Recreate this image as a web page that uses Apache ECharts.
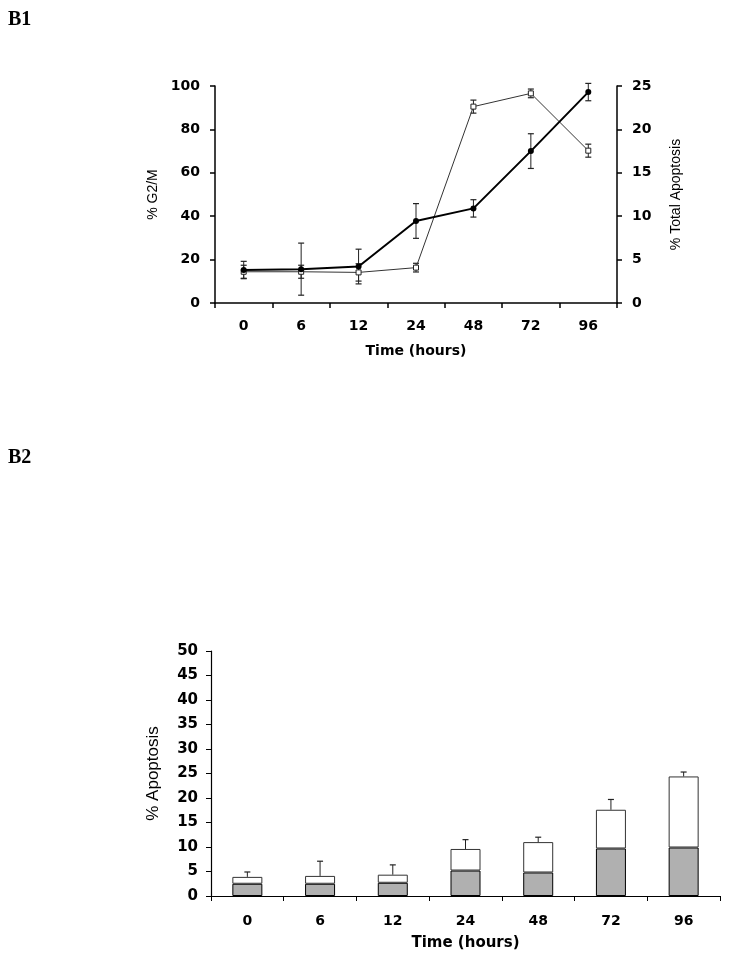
<!DOCTYPE html>
<html>
<head>
<meta charset="utf-8">
<script src="https://cdn.jsdelivr.net/npm/echarts@6/dist/echarts.min.js"></script>
<style>
  html, body { margin: 0; padding: 0; background: #fff; }
  #main { width: 729px; height: 965px; }
</style>
</head>
<body>
<div id="main"></div>
<script>
// categories
const hours = ['0', '6', '12', '24', '48', '72', '96'];
// B1 : % G2/M (open squares, left axis)
const g2m = [14.4, 14.4, 14.1, 16.3, 90.5, 96.6, 70.2];
const g2mErr = [3, 3, 4, 2, 3, 2, 3];
// B1 : % total apoptosis (filled circles, right axis)
const totalApop = [3.8, 3.9, 4.2, 9.45, 10.9, 17.5, 24.3];
const totalApopErr = [1.0, 3.0, 2.0, 2.0, 1.0, 2.0, 1.0];
// B2 : stacked bars (grey lower part, white upper part) + SD
const apopLower = [2.5, 2.5, 2.7, 5.2, 4.8, 9.7, 9.9];
const apopUpper = [1.4, 1.6, 1.65, 4.4, 6.2, 7.9, 14.5];
const apopErr = [1.0, 3.0, 2.0, 1.9, 1.0, 2.1, 0.9];

const WIDE = 'DejaVu Sans, Verdana, sans-serif';
const PLAIN = 'Liberation Sans, Arial, sans-serif';

// error bar drawer (both sides or top only)
function errRender(params, api) {
  const x = api.value(0);
  const lo = api.coord([x, api.value(1)]);
  const hi = api.coord([x, api.value(2)]);
  const hw = 3;
  const kids = [
    { type: 'line', shape: { x1: lo[0], y1: lo[1], x2: hi[0], y2: hi[1] }, style: { stroke: '#222', lineWidth: 1 } },
    { type: 'line', shape: { x1: hi[0] - hw, y1: hi[1], x2: hi[0] + hw, y2: hi[1] }, style: { stroke: '#222', lineWidth: 1.2 } }
  ];
  if (api.value(3)) {
    kids.push({ type: 'line', shape: { x1: lo[0] - hw, y1: lo[1], x2: lo[0] + hw, y2: lo[1] }, style: { stroke: '#222', lineWidth: 1.2 } });
  }
  return { type: 'group', children: kids };
}

const tickLbl = { color: '#000', fontFamily: WIDE, fontWeight: 'bold', fontSize: 14 };
const yTitle = { color: '#000', fontFamily: PLAIN, fontWeight: 'normal', fontSize: 14 };
const blackLine = { show: true, lineStyle: { color: '#000', width: 1.5 } };

const myChart = echarts.init(document.getElementById('main'));
const options = {
  animation: false,
  graphic: [
    { type: 'text', left: 8, top: 10, style: { text: 'B1', font: 'bold 20px "Liberation Serif", "Times New Roman", serif', fill: '#000' } },
    { type: 'text', left: 8, top: 448, style: { text: 'B2', font: 'bold 20px "Liberation Serif", "Times New Roman", serif', fill: '#000' } }
  ],
  grid: [
    { left: 215, right: 112, top: 86, height: 217 },
    { left: 211, right: 9, top: 651, height: 245 }
  ],
  xAxis: [
    {
      gridIndex: 0, type: 'category', data: hours, boundaryGap: true,
      axisLine: blackLine,
      axisTick: { show: true, length: 5, lineStyle: { color: '#000', width: 1.5 } },
      axisLabel: Object.assign({ margin: 16 }, tickLbl),
      name: 'Time (hours)', nameLocation: 'middle', nameGap: 41,
      nameTextStyle: Object.assign({}, tickLbl)
    },
    {
      gridIndex: 1, type: 'category', data: hours, boundaryGap: true,
      axisLine: { show: true, lineStyle: { color: '#000', width: 1.2 } },
      axisTick: { show: true, length: 5, lineStyle: { color: '#000', width: 1 } },
      axisLabel: Object.assign({}, tickLbl, { margin: 18 }),
      name: 'Time (hours)', nameLocation: 'middle', nameGap: 40,
      nameTextStyle: Object.assign({}, tickLbl, { fontSize: 15 })
    }
  ],
  yAxis: [
    {
      gridIndex: 0, type: 'value', min: 0, max: 100, interval: 20, position: 'left',
      axisLine: blackLine,
      axisTick: { show: true, length: 5, lineStyle: { color: '#000', width: 1.5 } },
      splitLine: { show: false },
      axisLabel: Object.assign({ margin: 15 }, tickLbl),
      name: '% G2/M', nameLocation: 'middle', nameGap: 55,
      nameTextStyle: yTitle
    },
    {
      gridIndex: 0, type: 'value', min: 0, max: 25, interval: 5, position: 'right',
      axisLine: blackLine,
      axisTick: { show: true, length: 5, lineStyle: { color: '#000', width: 1.5 } },
      splitLine: { show: false },
      axisLabel: Object.assign({ margin: 15 }, tickLbl),
      name: '% Total Apoptosis', nameLocation: 'middle', nameGap: 52, nameRotate: 90,
      nameTextStyle: yTitle
    },
    {
      gridIndex: 1, type: 'value', min: 0, max: 50, interval: 5,
      axisLine: { show: true, lineStyle: { color: '#000', width: 1.2 } },
      axisTick: { show: true, length: 5, lineStyle: { color: '#000', width: 1 } },
      splitLine: { show: false },
      axisLabel: Object.assign({}, tickLbl, { fontSize: 15, margin: 13 }),
      name: '% Apoptosis', nameLocation: 'middle', nameGap: 49,
      nameTextStyle: Object.assign({}, yTitle, { fontSize: 17 })
    }
  ],
  series: [
    {
      type: 'line', xAxisIndex: 0, yAxisIndex: 0, data: g2m, z: 3,
      symbol: 'rect', symbolSize: 5,
      lineStyle: { color: '#333', width: 1 },
      itemStyle: { color: '#fff', borderColor: '#222', borderWidth: 1 }
    },
    {
      type: 'custom', xAxisIndex: 0, yAxisIndex: 0, renderItem: errRender, z: 2,
      data: g2m.map((v, i) => [i, v - g2mErr[i], v + g2mErr[i], 1])
    },
    {
      type: 'line', xAxisIndex: 0, yAxisIndex: 1, data: totalApop, z: 4,
      symbol: 'circle', symbolSize: 6,
      lineStyle: { color: '#000', width: 2 },
      itemStyle: { color: '#000' }
    },
    {
      type: 'custom', xAxisIndex: 0, yAxisIndex: 1, renderItem: errRender, z: 2,
      data: totalApop.map((v, i) => [i, v - totalApopErr[i], v + totalApopErr[i], 1])
    },
    {
      type: 'bar', xAxisIndex: 1, yAxisIndex: 2, stack: 'apop', data: apopLower, barWidth: 30,
      itemStyle: { color: '#b0b0b0', borderColor: '#000', borderWidth: 1 }
    },
    {
      type: 'bar', xAxisIndex: 1, yAxisIndex: 2, stack: 'apop', data: apopUpper, barWidth: 30,
      itemStyle: { color: '#fff', borderColor: '#333', borderWidth: 1 }
    },
    {
      type: 'custom', xAxisIndex: 1, yAxisIndex: 2, renderItem: errRender, z: 3,
      data: apopLower.map((v, i) => [i, v + apopUpper[i], v + apopUpper[i] + apopErr[i], 0])
    }
  ]
};
myChart.setOption(options);
</script>
</body>
</html>
